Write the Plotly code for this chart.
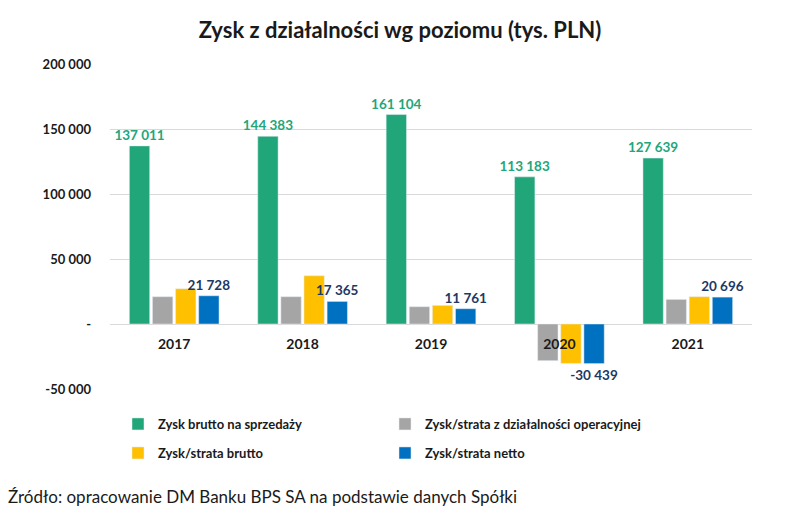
import plotly.graph_objects as go

years = ["2017", "2018", "2019", "2020", "2021"]
brutto_sprzedaz = [137011, 144383, 161104, 113183, 127639]
operacyjny = [21000, 21000, 13300, -28200, 18900]
strata_brutto = [27100, 37100, 14300, -30300, 21000]
netto = [21728, 17365, 11761, -30439, 20696]

series_names = [
    "Zysk brutto na sprzedaży",
    "Zysk/strata z działalności operacyjnej",
    "Zysk/strata brutto",
    "Zysk/strata netto",
]
colors = ["#21A67A", "#A5A5A5", "#FFC000", "#0070C0"]

ytick_vals = [-50000, 0, 50000, 100000, 150000, 200000]
ytick_text = ["-50 000", "-", "50 000", "100 000", "150 000", "200 000"]

FONT = "Lato"

fig = go.Figure()
fig.add_trace(go.Bar(
    x=years, y=brutto_sprzedaz, name=series_names[0], marker_color=colors[0],
    texttemplate="%{y:,.0f}", textposition="outside", constraintext="none",
    textfont=dict(color="#23A67C", size=13.5, family=FONT, weight="bold"),
    legend="legend",
))
fig.add_trace(go.Bar(
    x=years, y=operacyjny, name=series_names[1], marker_color=colors[1],
    legend="legend",
))
fig.add_trace(go.Bar(
    x=years, y=strata_brutto, name=series_names[2], marker_color=colors[2],
    legend="legend2",
))
fig.add_trace(go.Bar(
    x=years, y=netto, name=series_names[3], marker_color=colors[3],
    texttemplate="%{y:,.0f}", textposition="outside", constraintext="none",
    textfont=dict(color="#203864", size=13.5, family=FONT, weight="bold"),
    legend="legend2",
))

# The page body has an 8px default margin; the figure is sized/shifted to compensate.
OFF = 8
H = 325.0
W = 642.0

def py(pix):
    return (389 - pix) / H

def px(pix):
    return (pix - 110) / W

legend_common = dict(
    orientation="h", entrywidth=222, entrywidthmode="pixels",
    font=dict(family=FONT, size=13, color="#1a1a1a", weight="bold"),
    bgcolor="rgba(0,0,0,0)", itemwidth=30, xanchor="left", yanchor="middle",
    traceorder="normal",
)

fig.update_layout(
    width=800 - OFF, height=516 - OFF,
    margin=dict(l=110 - OFF, r=48, t=64 - OFF, b=127),
    paper_bgcolor="white", plot_bgcolor="white",
    separators=", ",
    barmode="group", bargap=0.28, bargroupgap=0.12,
    title=dict(
        text="<b>Zysk z działalności wg poziomu (tys. PLN)</b>",
        x=(400 - OFF) / (800 - OFF), xref="container", xanchor="center",
        y=1 - (30 - OFF) / (516 - OFF), yref="container", yanchor="middle",
        font=dict(family=FONT, size=22, color="#1a1a1a"),
    ),
    font=dict(family=FONT),
    xaxis=dict(
        anchor="free", position=0.2,
        showline=False, ticks="", showgrid=False,
        tickfont=dict(family=FONT, size=14, color="#1a1a1a", weight="bold"),
        ticklabelstandoff=10,
    ),
    yaxis=dict(
        range=[-50000, 200000], tickvals=ytick_vals, ticktext=ytick_text,
        showgrid=True, gridcolor="#D9D9D9", gridwidth=1,
        zeroline=True, zerolinecolor="#D9D9D9", zerolinewidth=1,
        tickfont=dict(family=FONT, size=13, color="#1a1a1a", weight="bold"),
        ticklabelstandoff=18,
    ),
    legend=dict(x=px(118), y=py(424), **legend_common),
    legend2=dict(x=px(118), y=py(453), **legend_common),
    showlegend=True,
    annotations=[dict(
        text="Źródło: opracowanie DM Banku BPS SA na podstawie danych Spółki",
        xref="paper", yref="paper", x=px(6), y=py(496),
        xanchor="left", yanchor="middle", showarrow=False,
        font=dict(family=FONT, size=17, color="#1a1a1a"),
    )],
)

fig.write_html("out.html")
